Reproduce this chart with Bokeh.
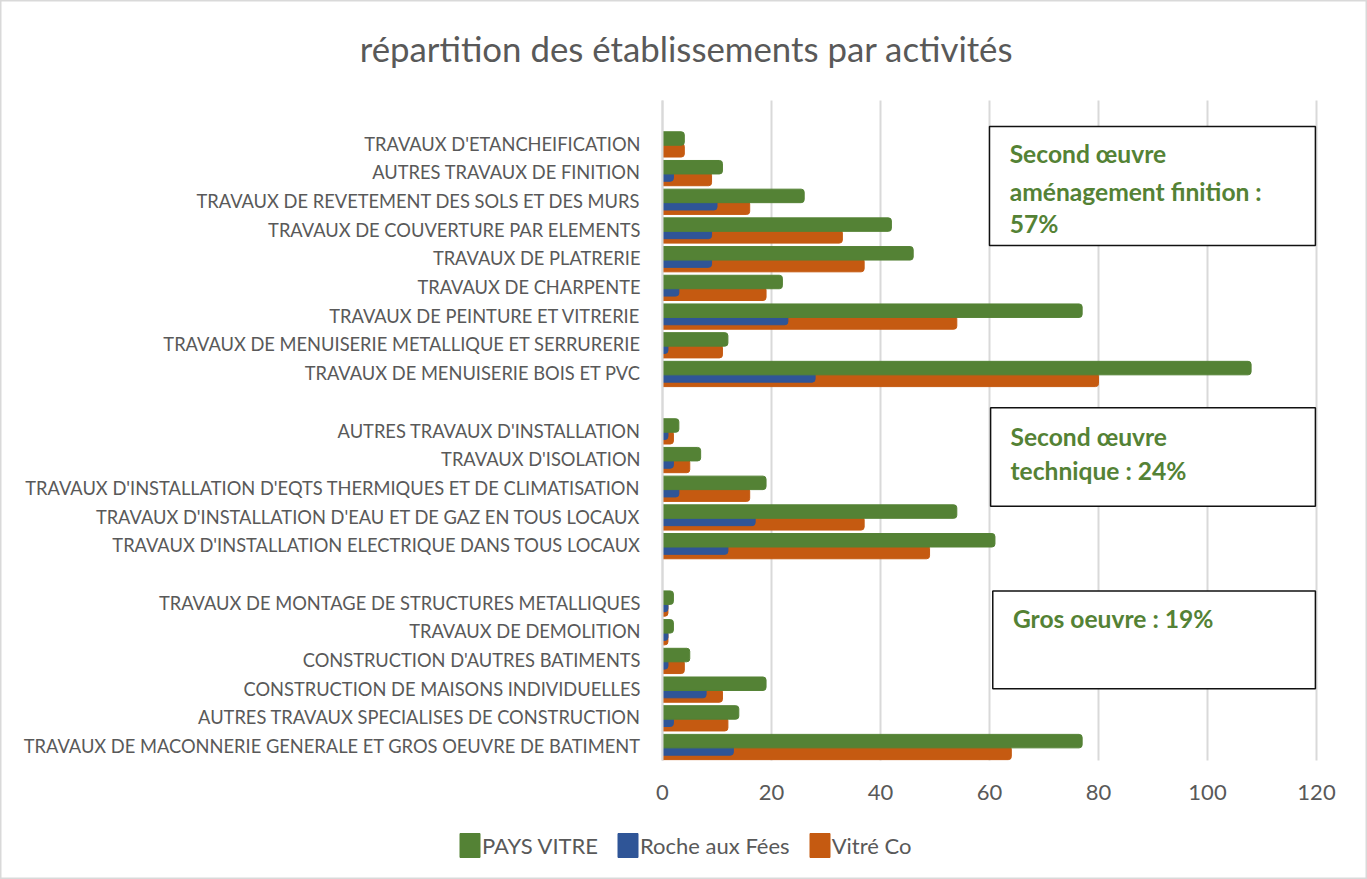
from bokeh.plotting import figure
from bokeh.models import (Range1d, FixedTicker, Label, BoxAnnotation, Legend,
                          LegendItem, ColumnDataSource, LinearAxis)
from bokeh.embed import file_html
from bokeh.resources import INLINE

title_text = "répartition des établissements par activités"

categories = [
    "TRAVAUX D'ETANCHEIFICATION",
    "AUTRES TRAVAUX DE FINITION",
    "TRAVAUX DE REVETEMENT DES SOLS ET DES MURS",
    "TRAVAUX DE COUVERTURE PAR ELEMENTS",
    "TRAVAUX DE PLATRERIE",
    "TRAVAUX DE CHARPENTE",
    "TRAVAUX DE PEINTURE ET VITRERIE",
    "TRAVAUX DE MENUISERIE METALLIQUE ET SERRURERIE",
    "TRAVAUX DE MENUISERIE BOIS ET PVC",
    "AUTRES TRAVAUX D'INSTALLATION",
    "TRAVAUX D'ISOLATION",
    "TRAVAUX D'INSTALLATION D'EQTS THERMIQUES ET DE CLIMATISATION",
    "TRAVAUX D'INSTALLATION D'EAU ET DE GAZ EN TOUS LOCAUX",
    "TRAVAUX D'INSTALLATION ELECTRIQUE DANS TOUS LOCAUX",
    "TRAVAUX DE MONTAGE DE STRUCTURES METALLIQUES",
    "TRAVAUX DE DEMOLITION",
    "CONSTRUCTION D'AUTRES BATIMENTS",
    "CONSTRUCTION DE MAISONS INDIVIDUELLES",
    "AUTRES TRAVAUX SPECIALISES DE CONSTRUCTION",
    "TRAVAUX DE MACONNERIE GENERALE ET GROS OEUVRE DE BATIMENT",
]
group_sizes = [9, 5, 6]

pays_vitre     = [4, 11, 26, 42, 46, 22, 77, 12, 108, 3, 7, 19, 54, 61, 2, 2, 5, 19, 14, 77]
roche_aux_fees = [0, 2, 10, 9, 9, 3, 23, 1, 28, 1, 2, 3, 17, 12, 1, 1, 1, 8, 2, 13]
vitre_co       = [4, 9, 16, 33, 37, 19, 54, 11, 80, 2, 5, 16, 37, 49, 1, 1, 4, 11, 12, 64]

series_names = ["PAYS VITRE", "Roche aux Fées", "Vitré Co"]
x_ticks = [0, 20, 40, 60, 80, 100, 120]

box_texts = [
    ["Second œuvre", "aménagement finition :", "57%"],
    ["Second œuvre", "technique : 24%"],
    ["Gros oeuvre : 19%"],
]

GREEN = "#548235"
BLUE = "#2F5597"
ORANGE = "#C55A11"
GREY_TXT = "#595959"
GRID = "#d9d9d9"
FONT = "Lato"

W, HGT = 1367, 879
# plot area in page pixels
X0, X120 = 662, 1316
YTOP, YBOT = 100, 760

# slot positions (one blank slot between groups, one blank slot on top)
ypos = []
slot = 0
for n in group_sizes:
    for _ in range(n):
        ypos.append(slot)
        slot += 1
    slot += 1
y_lo, y_hi = -1.5, ypos[-1] + 0.5

ppx = (X120 - X0) / 120.0
ppy = (YBOT - YTOP) / (y_hi - y_lo)
x_start = -X0 / ppx
x_end = (W - X0) / ppx
y_top = y_lo - YTOP / ppy
y_bot = y_hi + (HGT - YBOT) / ppy

src = ColumnDataSource(dict(
    y_g=[y - 0.175 for y in ypos],
    y_b=[y + 0.08 for y in ypos],
    y_o=[y + 0.235 for y in ypos],
    pv=pays_vitre, rf=roche_aux_fees, vc=vitre_co,
))

p = figure(width=W, height=HGT,
           x_range=Range1d(x_start, x_end), y_range=Range1d(y_bot, y_top),
           output_backend="svg", toolbar_location=None,
           x_axis_location=None, y_axis_location=None, min_border=0)
p.outline_line_color = GRID
p.outline_line_width = 2
p.background_fill_color = "white"
p.xgrid.visible = False
p.ygrid.visible = False

# vertical gridlines limited to the plot area
grid = p.segment(x0=x_ticks, x1=x_ticks, y0=[y_lo] * len(x_ticks),
                 y1=[y_hi] * len(x_ticks), line_color=GRID, line_width=2)
grid.level = "underlay"

H = 0.47
RAD = (0, 3, 3, 0)
r_o = p.hbar(y="y_o", left=0, right="vc", height=H, source=src,
             fill_color=ORANGE, line_color=ORANGE, line_width=1, border_radius=RAD)
r_b = p.hbar(y="y_b", left=0, right="rf", height=H, source=src,
             fill_color=BLUE, line_color=BLUE, line_width=1, border_radius=RAD)
r_g = p.hbar(y="y_g", left=0, right="pv", height=H, source=src,
             fill_color=GREEN, line_color=GREEN, line_width=1, border_radius=RAD)

# x axis fixed at the bottom of the plot area
xax = LinearAxis(fixed_location=y_hi, ticker=FixedTicker(ticks=x_ticks), bounds=(0, 120))
xax.axis_line_color = None
xax.major_tick_line_color = None
xax.minor_tick_line_color = None
xax.major_label_text_font = FONT
xax.major_label_text_font_size = "22px"
xax.major_label_text_color = GREY_TXT
xax.major_label_standoff = 18
p.add_layout(xax, "below")

# category axis fixed at x = 0
yax = LinearAxis(fixed_location=0, ticker=FixedTicker(ticks=ypos), bounds=(y_lo, y_hi))
yax.major_label_overrides = {y: c for y, c in zip(ypos, categories)}
yax.axis_line_color = GRID
yax.axis_line_width = 2
yax.major_tick_line_color = None
yax.minor_tick_line_color = None
yax.major_label_text_font = FONT
yax.major_label_text_font_size = "18.3px"
yax.major_label_text_color = GREY_TXT
yax.major_label_standoff = 16
p.add_layout(yax, "left")

# title
p.add_layout(Label(x=(686 - X0) / ppx, y=y_lo - (YTOP - 48) / ppy, text=title_text,
                   text_align="center", text_baseline="middle", text_font=FONT,
                   text_font_size="34.8px", text_color=GREY_TXT))

# text boxes
boxes = [
    dict(left=60.0, right=119.8, top=-0.594, bottom=3.552, tx=63.7, ty=[0.36, 1.68, 2.80]),
    dict(left=60.2, right=119.8, top=9.207, bottom=12.636, tx=63.85, ty=[10.22, 11.41]),
    dict(left=60.6, right=119.8, top=15.597, bottom=18.998, tx=64.3, ty=[16.56]),
]
for b, lines in zip(boxes, box_texts):
    p.add_layout(BoxAnnotation(left=b["left"], right=b["right"], top=b["top"],
                               bottom=b["bottom"], fill_color="white", fill_alpha=1,
                               line_color="#111111", line_width=1.5, line_alpha=1))
    for t, yy in zip(lines, b["ty"]):
        p.add_layout(Label(x=b["tx"], y=yy, text=t, text_align="left",
                           text_baseline="middle", text_font=FONT,
                           text_font_style="bold", text_font_size="24.6px",
                           text_color=GREEN))

legend = Legend(items=[
    LegendItem(label=series_names[0], renderers=[r_g]),
    LegendItem(label=series_names[1], renderers=[r_b]),
    LegendItem(label=series_names[2], renderers=[r_o]),
], location=(457, 19), orientation="horizontal")
legend.glyph_width = 25
legend.glyph_height = 30
legend.label_text_font = FONT
legend.label_text_font_size = "22px"
legend.label_text_color = GREY_TXT
legend.label_standoff = 0
legend.spacing = 17
legend.padding = 0
legend.margin = 0
legend.border_line_color = None
legend.background_fill_alpha = 0
p.add_layout(legend)

open("out.html", "w").write(file_html(p, INLINE))
